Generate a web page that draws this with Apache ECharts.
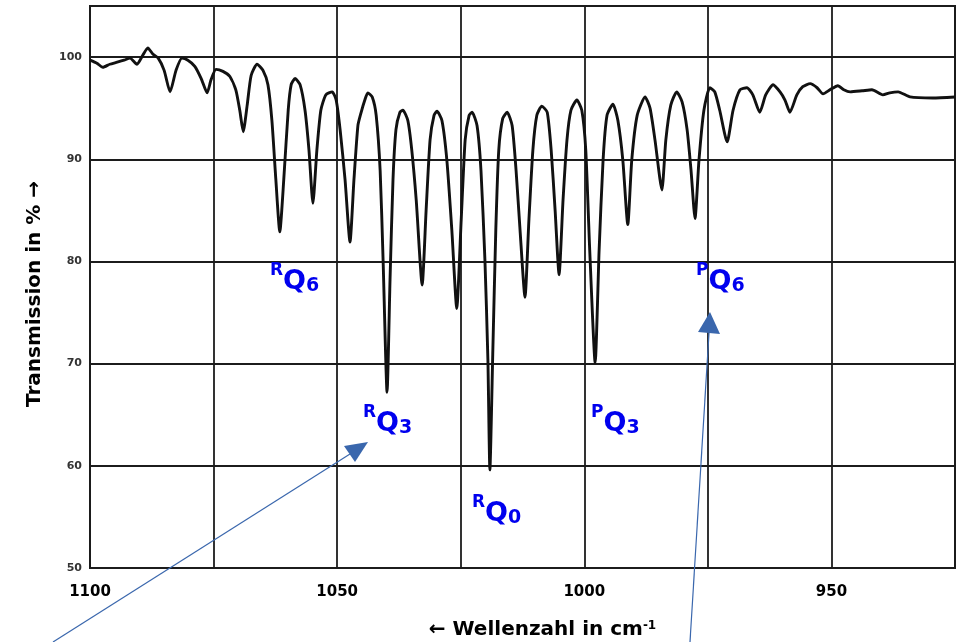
<!DOCTYPE html>
<html>
<head>
<meta charset="utf-8">
<script src="https://cdn.jsdelivr.net/npm/echarts@6/dist/echarts.min.js"></script>
<style>
    html, body { margin: 0; padding: 0; background: #fff; }
    #spectrum { width: 960px; height: 642px; }
</style>
</head>
<body>
<div id="spectrum"></div>
<script>
// wavenumber in cm-1 (left to right)
const wavenumber = [1100.0, 1098.6, 1097.4, 1096.0, 1094.5, 1093.1, 1091.9, 1090.5, 1089.3, 1088.3,
    1087.3, 1086.2, 1085.0, 1083.8, 1082.6, 1081.4, 1080.2, 1078.8, 1077.5, 1076.3,
    1075.5, 1074.5, 1073.1, 1071.7, 1070.5, 1069.7, 1069.0, 1068.2, 1067.4, 1066.2,
    1065.0, 1064.0, 1063.2, 1062.4, 1061.6, 1060.8, 1059.9, 1059.3, 1058.5, 1057.5,
    1056.5, 1055.7, 1054.9, 1054.1, 1053.3, 1052.3, 1051.0, 1050.2, 1049.4, 1048.4,
    1047.4, 1046.6, 1045.8, 1045.2, 1044.4, 1043.8, 1042.9, 1042.1, 1041.3, 1040.7,
    1039.9, 1039.3, 1038.7, 1038.1, 1037.3, 1036.7, 1035.7, 1034.9, 1034.0, 1032.8,
    1032.0, 1031.2, 1030.4, 1029.8, 1028.8, 1027.8, 1026.8, 1025.8, 1024.9, 1024.1,
    1023.3, 1022.7, 1021.7, 1020.9, 1020.1, 1019.5, 1019.1, 1018.5, 1017.9, 1017.3,
    1016.5, 1015.6, 1014.6, 1013.8, 1013.0, 1012.0, 1011.2, 1010.4, 1009.6, 1008.6,
    1007.5, 1006.7, 1005.9, 1005.1, 1004.3, 1003.5, 1002.7, 1001.5, 1000.5, 999.7,
    998.9, 997.8, 997.0, 996.2, 995.4, 994.2, 993.2, 992.2, 991.2, 990.4,
    989.3, 987.7, 986.7, 985.7, 984.3, 983.5, 982.5, 981.3, 980.2, 979.2,
    978.4, 977.6, 976.8, 975.8, 974.6, 973.6, 972.6, 971.1, 969.9, 968.5,
    967.1, 965.9, 964.5, 963.3, 961.8, 960.4, 959.4, 958.4, 957.0, 955.8,
    954.3, 952.9, 951.7, 950.3, 948.7, 947.5, 946.2, 943.8, 941.8, 939.6,
    938.2, 936.5, 934.1, 929.5, 925.0];

// transmission in %
const transmission = [99.7, 99.4, 99.0, 99.3, 99.5, 99.7, 99.9, 99.3, 100.2, 100.9,
    100.3, 99.9, 98.7, 96.6, 98.7, 99.9, 99.7, 99.1, 97.9, 96.5,
    97.8, 98.8, 98.6, 98.1, 96.8, 94.8, 92.7, 95.3, 98.2, 99.3,
    98.7, 97.3, 93.8, 88.0, 82.9, 88.0, 94.8, 97.3, 97.9, 97.3,
    94.8, 90.9, 85.7, 90.9, 94.8, 96.3, 96.6, 95.8, 92.9, 88.0,
    81.9, 88.0, 93.3, 94.5, 95.8, 96.5, 96.1, 94.3, 88.9, 80.1,
    67.2, 78.2, 88.0, 92.9, 94.6, 94.8, 93.8, 90.9, 86.0, 77.7,
    85.0, 91.9, 94.3, 94.7, 93.8, 89.9, 83.1, 75.4, 84.1, 91.9,
    94.3, 94.6, 93.3, 88.9, 80.1, 70.4, 59.6, 71.3, 83.1, 90.9,
    94.0, 94.6, 93.3, 88.9, 83.1, 76.5, 84.1, 90.9, 94.3, 95.2,
    94.6, 90.9, 85.0, 78.7, 86.0, 91.9, 94.8, 95.8, 94.8, 90.9,
    81.1, 70.1, 81.1, 89.9, 94.3, 95.4, 93.8, 89.9, 83.6, 89.9,
    94.3, 96.1, 95.0, 91.9, 87.0, 91.9, 95.3, 96.6, 95.6, 92.9,
    88.9, 84.2, 89.9, 94.8, 97.0, 96.6, 94.8, 91.7, 94.8, 96.8,
    97.0, 96.3, 94.6, 96.3, 97.3, 96.6, 95.8, 94.6, 96.3, 97.1,
    97.4, 97.0, 96.4, 96.8, 97.2, 96.8, 96.6, 96.7, 96.8, 96.3,
    96.5, 96.6, 96.1, 96.0, 96.1];

// band labels: superscript branch, subscript K
const bandBranch = ['R', 'R', 'R', 'P', 'P'];
const bandK = ['6', '3', '0', '3', '6'];

const xTicks = [1100, 1050, 1000, 950];
const yTicks = [50, 60, 70, 80, 90, 100];

var chart = echarts.init(document.getElementById('spectrum'));

const font = 'DejaVu Sans';
const labelBlue = '#0000ee';
const arrowBlue = '#3a67ad';
const gridColor = '#1c1c1c';

// where each band label sits (pixels, layout only)
const labelPos = [[270, 262], [363, 404], [472, 494], [591, 404], [696, 262]];

let graphics = labelPos.map(function (p, i) {
    return {
        type: 'text',
        left: p[0],
        top: p[1],
        z: 100,
        style: {
            text: '{b|' + bandBranch[i] + '}{q|Q}{k|' + bandK[i] + '}',
            rich: {
                b: {fontFamily: font, fontWeight: 'bold', fontSize: 17, fill: labelBlue, color: labelBlue, verticalAlign: 'top', lineHeight: 17},
                q: {fontFamily: font, fontWeight: 'bold', fontSize: 27, fill: labelBlue, color: labelBlue, lineHeight: 40},
                k: {fontFamily: font, fontWeight: 'bold', fontSize: 19, fill: labelBlue, color: labelBlue, verticalAlign: 'middle', padding: [8, 0, 0, 0]}
            }
        }
    };
});

// the two pointer arrows
graphics.push(
    {type: 'line', z: 100, shape: {x1: 53, y1: 642, x2: 350, y2: 454}, style: {stroke: arrowBlue, lineWidth: 1.2}},
    {type: 'polygon', z: 100, shape: {points: [[368, 442], [355, 462], [344, 446]]}, style: {fill: arrowBlue}},
    {type: 'line', z: 100, shape: {x1: 690, y1: 642, x2: 709, y2: 333}, style: {stroke: arrowBlue, lineWidth: 1.2}},
    {type: 'polygon', z: 100, shape: {points: [[710, 312], [720, 334], [698, 332]]}, style: {fill: arrowBlue}}
);

option = {
    backgroundColor: '#fff',
    animation: false,
    grid: {
        left: 90,
        right: 5,
        top: 6,
        bottom: 74,
        outerBoundsMode: 'none',
        show: true,
        borderColor: gridColor,
        borderWidth: 2
    },
    xAxis: {
        type: 'value',
        inverse: true,
        min: 925,
        max: 1100,
        interval: 25,
        axisLine: {show: false},
        axisTick: {show: false},
        splitLine: {show: true, lineStyle: {color: gridColor, width: 1.8}},
        axisLabel: {
            margin: 17,
            fontFamily: font,
            fontWeight: 'bold',
            fontSize: 15,
            color: '#000',
            formatter: function (v) {
                return xTicks.indexOf(v) >= 0 ? String(v) : '';
            }
        },
        name: '← Wellenzahl in cm{sup|-1}',
        nameLocation: 'middle',
        nameGap: 52,
        nameTextStyle: {
            fontFamily: font,
            fontWeight: 'bold',
            fontSize: 20,
            color: '#000',
            padding: [0, 0, 0, 40],
            rich: {
                sup: {fontFamily: font, fontWeight: 'bold', fontSize: 12, color: '#000', verticalAlign: 'top', lineHeight: 12}
            }
        }
    },
    yAxis: {
        type: 'value',
        min: 50,
        max: 105,
        interval: 10,
        axisLine: {show: false},
        axisTick: {show: false},
        splitLine: {show: true, lineStyle: {color: gridColor, width: 1.8}},
        axisLabel: {
            margin: 8,
            fontFamily: font,
            fontWeight: 'bold',
            fontSize: 11,
            color: '#333',
            formatter: function (v) {
                return yTicks.indexOf(v) >= 0 ? String(v) : '';
            }
        },
        name: 'Transmission in % →',
        nameLocation: 'middle',
        nameGap: 45,
        nameTextStyle: {
            fontFamily: font,
            fontWeight: 'bold',
            fontSize: 20,
            color: '#000',
            padding: [0, 14, 0, 0]
        }
    },
    series: [{
        type: 'line',
        data: wavenumber.map(function (w, i) { return [w, transmission[i]]; }),
        showSymbol: false,
        smooth: 0.2,
        silent: true,
        lineStyle: {color: '#111', width: 2.9}
    }],
    graphic: graphics
};

chart.setOption(option);

window.onresize = function () {
    chart.resize();
};
</script>
</body>
</html>
